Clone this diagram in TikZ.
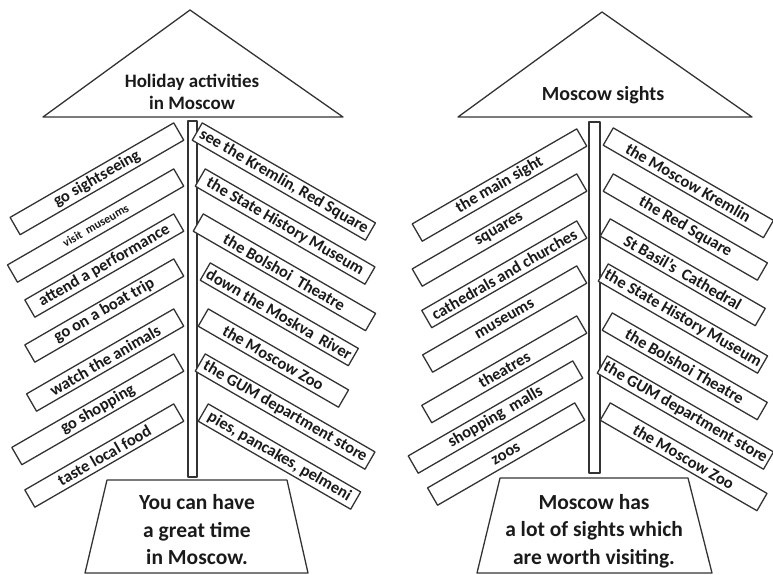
\documentclass[tikz,border=0pt]{standalone}
\usepackage{fontspec}
\setmainfont{Carlito}
\definecolor{lineGray}{HTML}{333333}
\definecolor{textDark}{HTML}{1A1A1A}

\begin{document}
\begin{tikzpicture}[
    x=1pt, y=-1pt,
    line_style/.style={draw=lineGray, line width=1.3pt, line join=round},
    board_style/.style={line_style, fill=white, minimum height=20pt, inner sep=0pt,
        text=textDark, font=\bfseries\fontsize{16.5}{16.5}\selectfont},
    title_style/.style={text=textDark, align=center, font=\bfseries\fontsize{19}{22}\selectfont},
    base_style/.style={text=textDark, align=center, font=\bfseries\fontsize{21.5}{27.5}\selectfont}
]
    \useasboundingbox (0,0) rectangle (773,574);

    % --- 绘制宏 ---
    % #1 前缀, #2 旋转角, #3 锚点, #4 列表 x/y/长度/文字
    \newcommand{\boardrow}[4]{
        \foreach \x/\y/\len/\txt [count=\i] in {#4} {
            \node[board_style, rotate=#2, anchor=#3, minimum width=\len] (#1\i) at (\x,\y) {\txt};
        }
    }

    % --- 左图: Holiday activities ---

    % 1. 屋顶三角形和标题
    \draw[line_style] (190,10) -- (343,117) -- (43,117) -- cycle;
    \node[title_style] (h_title) at (192,92) {Holiday activities\\in Moscow};

    % 2. 木杆
    \draw[line_style] (188,121) rectangle (197,477);

    % 3. 左右两排木牌 (左边向上倾斜 30 度, 右边向下倾斜 30 度)
    \boardrow{hl}{30}{north east}{
        174/122/189/{go sightseeing},
        174/168/192/{\fontsize{12}{12}\selectfont visit\ \ museums},
        174/213/172/{attend a performance},
        174/258/172/{go on a boat trip},
        174/308/170/{watch the animals},
        174/353/187/{go shopping},
        174/403/172/{taste local food}}
    \boardrow{hr}{-30}{north west}{
        202/122/200/{see the Kremlin, Red Square},
        205/168/196/{the State History Museum},
        203/213/199/{the Bolshoi\ \ Theatre},
        210/262/171/{down the Moskva\ \ River},
        208/308/162/{the Moscow Zoo},
        205/353/196/{the GUM department store},
        208/403/176/{pies, pancakes, pelmeni}}

    % 4. 底座梯形
    \draw[line_style] (107,480) -- (287,480) -- (308,573) -- (85,573) -- cycle;
    \node[base_style] (h_base) at (197,530) {You can have\\a great time\\in Moscow.};

    % --- 右图: Moscow sights ---

    % 1. 屋顶三角形和标题
    \draw[line_style] (602,12) -- (752,117) -- (458,117) -- cycle;
    \node[title_style, font=\bfseries\fontsize{20}{22}\selectfont] (s_title) at (603,95) {Moscow sights};

    % 2. 木杆
    \draw[line_style] (589,122) rectangle (600,473);

    % 3. 左右两排木牌
    \boardrow{sl}{30}{north east}{
        577/128/190/{the main sight},
        577/173/190/{squares},
        577/220/179/{cathedrals and churches},
        577/265/178/{museums},
        577/315/179/{theatres},
        573/360/190/{shopping\ \ malls},
        575/402/170/{zoos}}
    \boardrow{sr}{-30}{north west}{
        613/127/185/{the Moscow Kremlin},
        613/173/178/{the Red Square},
        610/218/179/{St Basil’s\ \ Cathedral},
        608/263/184/{the State History Museum},
        612/312/179/{the Bolshoi Theatre},
        607/355/192/{the GUM department store},
        610/402/181/{the Moscow Zoo}}

    % 4. 底座梯形
    \draw[line_style] (500,478) -- (688,478) -- (712,573) -- (477,573) -- cycle;
    \node[base_style] (s_base) at (594,531) {Moscow has\\a lot of sights which\\are worth visiting.};

\end{tikzpicture}
\end{document}
